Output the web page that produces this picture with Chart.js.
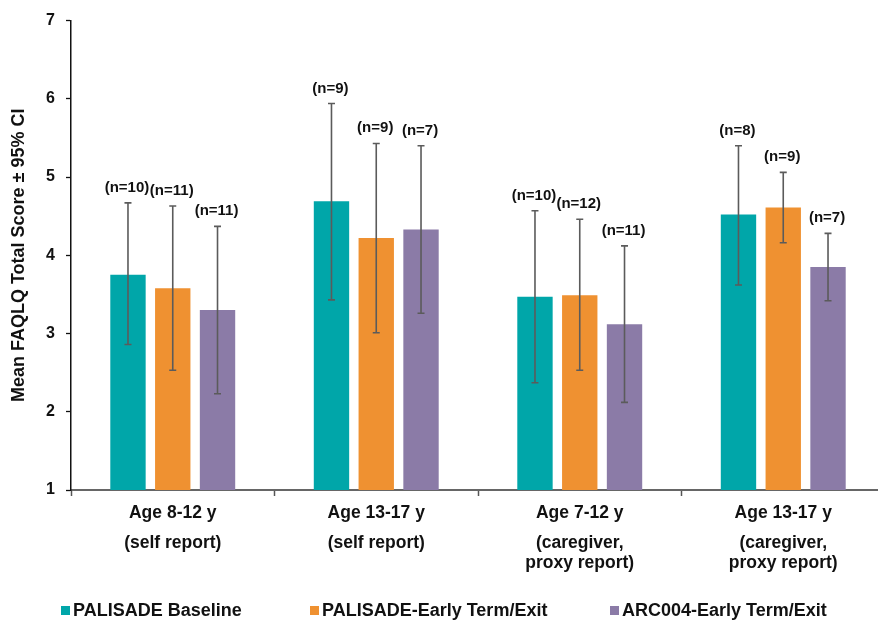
<!DOCTYPE html>
<html>
<head>
<meta charset="utf-8">
<script src="https://cdn.jsdelivr.net/npm/chart.js@4.4.1/dist/chart.umd.min.js"></script>
<style>
  html, body { margin: 0; padding: 0; background: #fff; overflow: hidden; }
  #wrap { position: relative; width: 886px; height: 620px; }
  #legend { position: absolute; left: 0; top: 599px; width: 886px; height: 22px;
            font: bold 18px 'Liberation Sans', Arial, sans-serif; color: #111; }
  .item { position: absolute; top: 0; line-height: 22px; white-space: nowrap; }
  .box { display: inline-block; width: 9px; height: 9px; margin-right: 3px; vertical-align: 1px; }
</style>
</head>
<body>
<div id="wrap">
  <canvas id="chartFaqlq" width="886" height="620"></canvas>
  <div id="legend"></div>
</div>
<script>
// Dữ liệu biểu đồ
const categories = [
    ['Age 8-12 y', '(self report)'],
    ['Age 13-17 y', '(self report)'],
    ['Age 7-12 y', '(caregiver,', 'proxy report)'],
    ['Age 13-17 y', '(caregiver,', 'proxy report)'],
];
const seriesNames = ['PALISADE Baseline', 'PALISADE-Early Term/Exit', 'ARC004-Early Term/Exit'];

const baselineMean = [3.75, 4.69, 3.47, 4.52];
const baselineLow  = [2.86, 3.43, 2.37, 3.62];
const baselineHigh = [4.67, 5.94, 4.57, 5.40];
const baselineN    = [10, 9, 10, 8];

const earlyMean = [3.58, 4.22, 3.49, 4.61];
const earlyLow  = [2.53, 3.01, 2.53, 4.16];
const earlyHigh = [4.63, 5.43, 4.46, 5.06];
const earlyN    = [11, 9, 12, 9];

const arcMean = [3.30, 4.33, 3.12, 3.85];
const arcLow  = [2.23, 3.26, 2.12, 3.42];
const arcHigh = [4.37, 5.40, 4.12, 4.28];
const arcN    = [11, 7, 11, 7];

const yTicks = [1, 2, 3, 4, 5, 6, 7];

// Bảng mã màu
const COLORS = {
    teal: '#00A6A9',
    orange: '#EF9131',
    purple: '#8B7BA7',
    whisker: '#5b5b5b',
};

const FONT = "'Liberation Sans', Arial, sans-serif";

// Thanh sai số + nhãn n
const errorBarPlugin = {
    id: 'errorBars',
    afterDatasetsDraw(chart) {
        const ctx = chart.ctx;
        const y = chart.scales.y;
        ctx.save();
        chart.data.datasets.forEach((ds, di) => {
            const meta = chart.getDatasetMeta(di);
            meta.data.forEach((bar, i) => {
                const top = y.getPixelForValue(ds.ciHigh[i]);
                const bottom = y.getPixelForValue(ds.ciLow[i]);
                const x = bar.x;
                ctx.strokeStyle = COLORS.whisker;
                ctx.lineWidth = 1.6;
                ctx.beginPath();
                ctx.moveTo(x, top); ctx.lineTo(x, bottom);
                ctx.moveTo(x - 3.5, top); ctx.lineTo(x + 3.5, top);
                ctx.moveTo(x - 3.5, bottom); ctx.lineTo(x + 3.5, bottom);
                ctx.stroke();

                ctx.fillStyle = '#111';
                ctx.font = 'bold 15px ' + FONT;
                ctx.textAlign = 'center';
                ctx.textBaseline = 'alphabetic';
                ctx.fillText('(n=' + ds.n[i] + ')', x - 1, top - 11);
            });
        });
        ctx.restore();
    }
};

const makeSet = (label, mean, lo, hi, n, color) => ({
    label: label,
    data: mean,
    ciLow: lo,
    ciHigh: hi,
    n: n,
    backgroundColor: color,
    borderWidth: 0,
    categoryPercentage: 0.66,
    barPercentage: 0.79,
});

const chart = new Chart(document.getElementById('chartFaqlq'), {
    type: 'bar',
    data: {
        labels: categories,
        datasets: [
            makeSet(seriesNames[0], baselineMean, baselineLow, baselineHigh, baselineN, COLORS.teal),
            makeSet(seriesNames[1], earlyMean, earlyLow, earlyHigh, earlyN, COLORS.orange),
            makeSet(seriesNames[2], arcMean, arcLow, arcHigh, arcN, COLORS.purple),
        ]
    },
    options: {
        responsive: false,
        animation: false,
        layout: { padding: { top: 11, right: 1, bottom: 40, left: 0 } },
        plugins: {
            legend: { display: false },
            tooltip: { enabled: false },
        },
        scales: {
            x: {
                grid: { offset: true, drawOnChartArea: false, tickLength: 6, tickColor: '#555', tickWidth: 1.5 },
                border: { color: '#666', width: 2 },
                ticks: {
                    color: '#111',
                    padding: 12,
                    font: { family: FONT, size: 17.5, weight: 'bold', lineHeight: '10px' },
                    // dòng 1 cách xa hơn dòng 2-3
                    callback: function (v, i) {
                        const l = categories[i];
                        return l.length === 3 ? [l[0], '', '', l[1], '', l[2]] : [l[0], '', '', l[1]];
                    }
                }
            },
            y: {
                min: 1,
                max: 7,
                afterBuildTicks: s => { s.ticks = yTicks.map(v => ({ value: v })); },
                afterFit: s => { s.width = 71; },
                grid: { drawOnChartArea: false, tickLength: 5, tickColor: '#111', tickWidth: 1.3 },
                border: { color: '#111', width: 1.5 },
                ticks: {
                    color: '#111',
                    padding: 11,
                    font: { family: FONT, size: 16, weight: 'bold' },
                },
                title: {
                    display: true,
                    text: 'Mean FAQLQ Total Score ± 95% CI',
                    color: '#111',
                    padding: { top: 8, bottom: 0 },
                    font: { family: FONT, size: 18, weight: 'bold' },
                }
            }
        }
    },
    plugins: [errorBarPlugin]
});

// Chú giải HTML
const legendEl = document.getElementById('legend');
const legendLeft = [61, 310, 610];
chart.data.datasets.forEach((ds, i) => {
    const item = document.createElement('div');
    item.className = 'item';
    item.style.left = legendLeft[i] + 'px';
    const box = document.createElement('span');
    box.className = 'box';
    box.style.background = ds.backgroundColor;
    item.appendChild(box);
    item.appendChild(document.createTextNode(ds.label));
    legendEl.appendChild(item);
});
</script>
</body>
</html>
